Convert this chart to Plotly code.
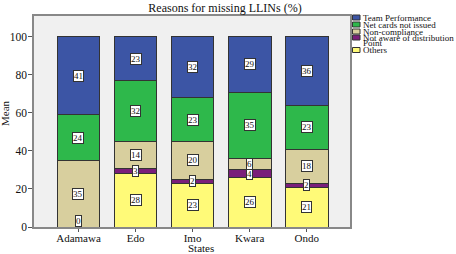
import plotly.graph_objects as go

states = ["Adamawa", "Edo", "Imo", "Kwara", "Ondo"]
others = [0, 28, 23, 26, 21]
not_aware = [0, 3, 2, 4, 2]
non_compliance = [35, 14, 20, 6, 18]
net_cards = [24, 32, 23, 35, 23]
team = [41, 23, 32, 29, 36]

series_names = ["Others", "Not aware of distribution<br>Point", "Non-compliance",
                "Net cards not issued", "Team Performance"]
series_values = [others, not_aware, non_compliance, net_cards, team]
colors = ["#fffa78", "#7a1e7a", "#d8cf9e", "#2eb84b", "#3c55a5"]

SERIF = "Liberation Serif, Times New Roman, serif"

fig = go.Figure()
for name, vals, col in zip(series_names, series_values, colors):
    fig.add_trace(go.Bar(
        x=states, y=vals, name=name, marker=dict(color=col, line=dict(color="#333333", width=1)),
        width=0.75, showlegend=False, hoverinfo="y+name"))

annotations = []
cum = [0] * len(states)
for si, vals in enumerate(series_values):
    for i, v in enumerate(vals):
        if v == 0 and si != 0:
            continue
        common = dict(x=states[i], text=str(v), showarrow=False, xanchor="center",
                      font=dict(family=SERIF, size=9, color="#111"),
                      bgcolor="white", bordercolor="#333", borderwidth=1, borderpad=0)
        if v == 0:
            annotations.append(dict(y=0, yanchor="bottom", **common))
        else:
            annotations.append(dict(y=cum[i] + v / 2, yanchor="middle", **common))
        cum[i] += v

# custom compact legend (top to bottom)
L, R, T, B = 34, 350, 16, 227
def px(xp):
    return (xp - L) / (R - L)
def py(yp):
    return (B - yp) / (B - T)

legend_items = [("Team Performance", colors[4], 17.5),
                ("Net cards not issued", colors[3], 24.5),
                ("Non-compliance", colors[2], 31.5),
                ("Not aware of distribution", colors[1], 37.5),
                ("Point", None, 43.5),
                ("Others", colors[0], 50)]
shapes = []
for text, col, yc in legend_items:
    annotations.append(dict(xref="paper", yref="paper", x=px(360.5), y=py(yc), xanchor="left",
                            yanchor="middle", text=text, showarrow=False,
                            font=dict(family=SERIF, size=9, color="#111")))
    if col:
        shapes.append(dict(type="rect", xref="paper", yref="paper", x0=px(352.5), x1=px(360),
                           y0=py(yc + 2.5), y1=py(yc - 2.5), fillcolor=col,
                           line=dict(color="#333", width=1)))

annotations.append(dict(xref="paper", yref="paper", x=px(201), y=py(248), text="States",
                        xanchor="center", yanchor="middle",
                        showarrow=False, font=dict(family=SERIF, size=11, color="#111")))
annotations.append(dict(xref="paper", yref="paper", x=px(5), y=py(113), text="Mean", textangle=-90,
                        xanchor="center", yanchor="middle",
                        showarrow=False, font=dict(family=SERIF, size=11, color="#111")))

fig.update_layout(
    barmode="stack",
    width=456, height=254,
    margin=dict(l=L, r=456 - R, t=T, b=254 - B, autoexpand=False),
    paper_bgcolor="white", plot_bgcolor="#f0f0f0",
    title=dict(text="Reasons for missing LLINs (%)", x=225 / 456, xanchor="center",
               y=1 - 7.5 / 254, yanchor="middle", yref="container",
               font=dict(family=SERIF, size=12, color="#111")),
    font=dict(family=SERIF, size=11, color="#111"),
    annotations=annotations, shapes=shapes,
)
fig.update_xaxes(range=[-0.78, 4.76], showgrid=False, ticks="outside", ticklen=3, tickcolor="#555",
                 showline=True, linecolor="#888", linewidth=1.5, mirror=True, automargin=False,
                 ticklabelstandoff=-3,
                 tickfont=dict(family=SERIF, size=11, color="#111"))
fig.update_yaxes(range=[0, 111], showgrid=False, ticks="outside", ticklen=4, tickcolor="#555",
                 tickvals=[0, 20, 40, 60, 80, 100], showline=True, linecolor="#888", linewidth=1.5,
                 mirror=True, zeroline=False, automargin=False, ticklabelstandoff=-1,
                 tickfont=dict(family=SERIF, size=11.5, color="#111"))

fig.write_html("out.html", config={"displayModeBar": False},
               post_script="document.body.style.margin='0';")
